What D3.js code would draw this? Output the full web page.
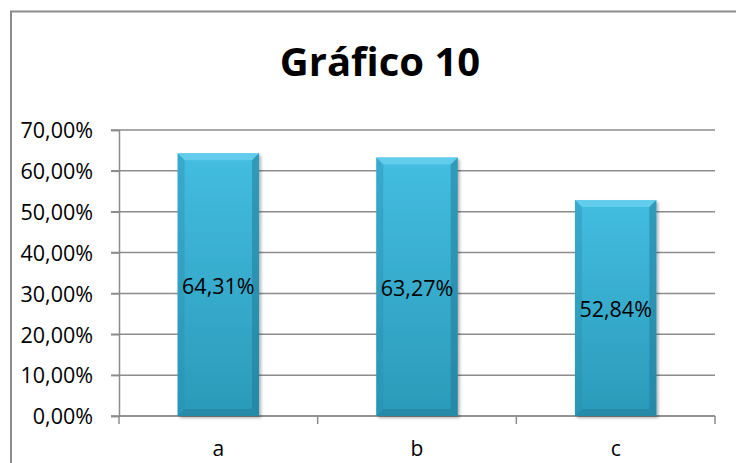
<!DOCTYPE html>
<html>
<head>
<meta charset="utf-8">
<script src="https://cdn.jsdelivr.net/npm/d3@7"></script>
<style>
  html, body { margin: 0; padding: 0; background: #fff; }
  svg { display: block; }
  text { font-family: "Open Sans", "Liberation Sans", sans-serif; fill: #000; }
</style>
</head>
<body>
<svg id="chart" width="736" height="463"></svg>
<script>
// Chart data
const categories = ["a", "b", "c"];
const values = [64.31, 63.27, 52.84];
const yTicks = [0, 10, 20, 30, 40, 50, 60, 70];
const title = "Gráfico 10";

const fmt = v => v.toFixed(2).replace(".", ",") + "%";

const svg = d3.select("#chart");
const W = 736, H = 463;
const m = { left: 119, right: 21, top: 130, bottom: 47 };

// Outer frame
svg.append("rect")
  .attr("x", 11).attr("y", 11.5)
  .attr("width", W + 20).attr("height", H + 20)
  .attr("fill", "#fff").attr("stroke", "#8c8c8c").attr("stroke-width", 2);

// Title
svg.append("text")
  .attr("x", 380).attr("y", 76)
  .attr("text-anchor", "middle")
  .attr("font-size", 40).attr("font-weight", "bold")
  .text(title);

const x = d3.scaleBand()
  .domain(categories)
  .range([m.left, W - m.right])
  .paddingInner(0.59).paddingOuter(0.295);

const y = d3.scaleLinear().domain([0, 70]).range([H - m.bottom, m.top]);

// Gridlines
svg.append("g").selectAll("line").data(yTicks).join("line")
  .attr("x1", m.left - 8).attr("x2", W - m.right)
  .attr("y1", d => y(d)).attr("y2", d => y(d))
  .attr("stroke", "#8c8c8c").attr("stroke-width", 1.5);

// Y axis
const yAxis = svg.append("g")
  .attr("transform", `translate(${m.left},0)`)
  .call(d3.axisLeft(y).tickValues(yTicks).tickFormat(fmt).tickSize(8).tickPadding(18));
yAxis.select(".domain").attr("stroke", "#8c8c8c").attr("stroke-width", 1.5);
yAxis.selectAll(".tick line").attr("stroke", "#8c8c8c").attr("stroke-width", 1.5);
yAxis.selectAll("text").attr("font-size", 21.5).attr("font-family", "'Open Sans', sans-serif").attr("dy", "0.36em");

// X axis: ticks at band boundaries
const step = x.step();
const bounds = d3.range(categories.length + 1).map(i => m.left + i * step);
svg.append("g").selectAll("line").data(bounds).join("line")
  .attr("x1", d => d).attr("x2", d => d)
  .attr("y1", y(0)).attr("y2", y(0) + 8)
  .attr("stroke", "#8c8c8c").attr("stroke-width", 1.5);
svg.append("line")
  .attr("x1", m.left).attr("x2", W - m.right)
  .attr("y1", y(0)).attr("y2", y(0))
  .attr("stroke", "#8c8c8c").attr("stroke-width", 1.5);
svg.append("g").selectAll("text").data(categories).join("text")
  .attr("x", d => x(d) + x.bandwidth() / 2)
  .attr("y", y(0) + 40)
  .attr("text-anchor", "middle")
  .attr("font-size", 21)
  .text(d => d);

// Bar fills
const defs = svg.append("defs");
const g1 = defs.append("linearGradient").attr("id", "barFill")
  .attr("x1", 0).attr("y1", 0).attr("x2", 0).attr("y2", 1);
g1.append("stop").attr("offset", "0%").attr("stop-color", "#43bde0");
g1.append("stop").attr("offset", "100%").attr("stop-color", "#2b9ab9");
const shadow = defs.append("filter").attr("id", "shadow")
  .attr("x", "-10%").attr("y", "-5%").attr("width", "125%").attr("height", "115%");
shadow.append("feDropShadow").attr("dx", 2).attr("dy", 2).attr("stdDeviation", 1.5)
  .attr("flood-color", "#000").attr("flood-opacity", 0.3);

const data = categories.map((c, i) => ({ c, v: values[i] }));
const bars = svg.append("g").selectAll("g").data(data).join("g");
const bv = 7; // bevel size

bars.append("rect")
  .attr("x", d => x(d.c)).attr("y", d => y(d.v))
  .attr("width", x.bandwidth()).attr("height", d => y(0) - y(d.v))
  .attr("fill", "url(#barFill)").attr("filter", "url(#shadow)");

// Bevels: top (light), left, right and bottom (darker)
bars.append("path").attr("fill", "#6fd3ef").attr("opacity", 0.7)
  .attr("d", d => {
    const x0 = x(d.c), x1 = x0 + x.bandwidth(), t = y(d.v);
    return `M${x0},${t}L${x1},${t}L${x1 - bv},${t + bv}L${x0 + bv},${t + bv}Z`;
  });
bars.append("path").attr("fill", "#2a8fae").attr("opacity", 0.4)
  .attr("d", d => {
    const x0 = x(d.c), t = y(d.v), b = y(0);
    return `M${x0},${t}L${x0 + bv},${t + bv}L${x0 + bv},${b - bv}L${x0},${b}Z`;
  });
bars.append("path").attr("fill", "#1f7894").attr("opacity", 0.5)
  .attr("d", d => {
    const x1 = x(d.c) + x.bandwidth(), t = y(d.v), b = y(0);
    return `M${x1},${t}L${x1 - bv},${t + bv}L${x1 - bv},${b - bv}L${x1},${b}Z`;
  });
bars.append("path").attr("fill", "#1f7894").attr("opacity", 0.45)
  .attr("d", d => {
    const x0 = x(d.c), x1 = x0 + x.bandwidth(), b = y(0);
    return `M${x0},${b}L${x0 + bv},${b - bv}L${x1 - bv},${b - bv}L${x1},${b}Z`;
  });

// Value labels
bars.append("text")
  .attr("x", d => x(d.c) + x.bandwidth() / 2)
  .attr("y", d => (y(d.v) + y(0)) / 2 + 9)
  .attr("text-anchor", "middle")
  .attr("font-size", 21.5)
  .text(d => fmt(d.v));
</script>
</body>
</html>
